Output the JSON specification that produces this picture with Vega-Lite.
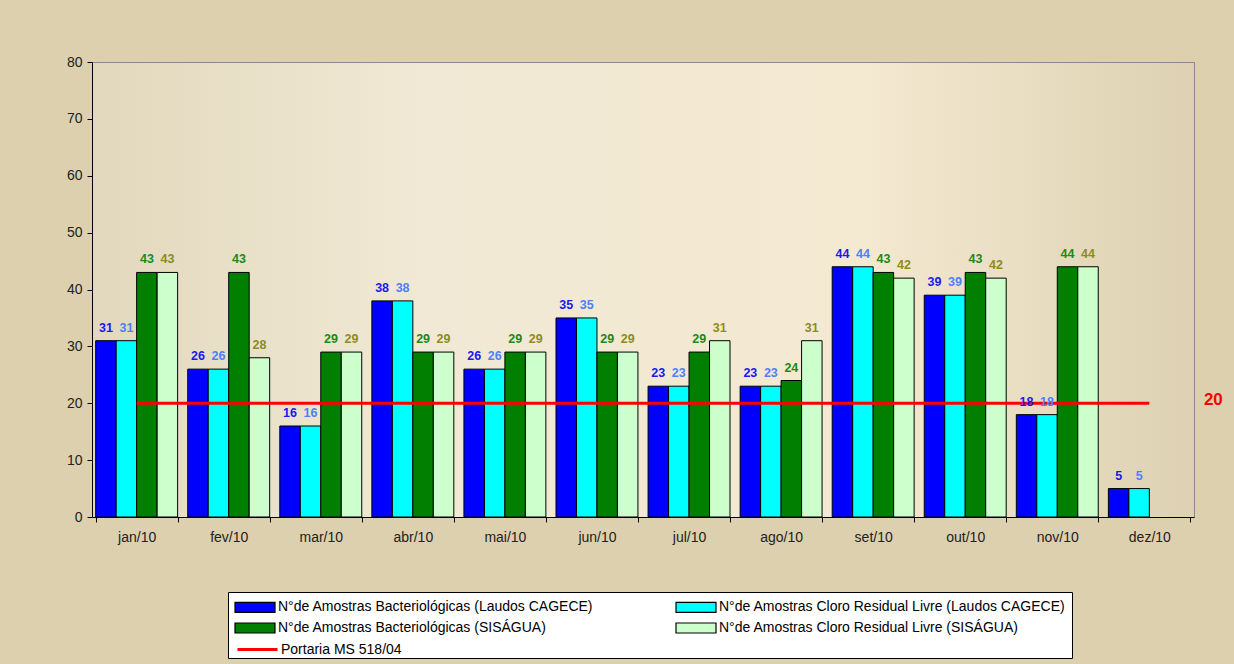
{
  "$schema": "https://vega.github.io/schema/vega-lite/v6.json",
  "width": 1102,
  "height": 455,
  "autosize": "none",
  "padding": {"left": 92, "top": 62, "right": 40, "bottom": 147},
  "background": "#ddd0ae",
  "config": {
    "font": "Liberation Sans",
    "view": {"fill": {"gradient": "linear", "x1": 0, "y1": 0, "x2": 1, "y2": 0, "stops": [{"offset": 0, "color": "#e2d8bd"}, {"offset": 0.3, "color": "#f1e9d5"}, {"offset": 0.7, "color": "#f4e9d1"}, {"offset": 1, "color": "#ddd1b2"}]}, "stroke": "#8a8a8a", "strokeWidth": 1},
    "axis": {"labelFont": "Liberation Sans", "labelFontSize": 14, "labelColor": "#222222", "domainColor": "#000000", "tickColor": "#000000", "grid": false, "title": null}
  },
  "data": {
    "values": [
      {"month": "jan/10", "s": "N°de Amostras Bacteriológicas (Laudos CAGECE)", "value": 31},
      {"month": "jan/10", "s": "N°de Amostras Cloro Residual Livre (Laudos CAGECE)", "value": 31},
      {"month": "jan/10", "s": "N°de Amostras Bacteriológicas (SISÁGUA)", "value": 43},
      {"month": "jan/10", "s": "N°de Amostras Cloro Residual Livre (SISÁGUA)", "value": 43},
      {"month": "fev/10", "s": "N°de Amostras Bacteriológicas (Laudos CAGECE)", "value": 26},
      {"month": "fev/10", "s": "N°de Amostras Cloro Residual Livre (Laudos CAGECE)", "value": 26},
      {"month": "fev/10", "s": "N°de Amostras Bacteriológicas (SISÁGUA)", "value": 43},
      {"month": "fev/10", "s": "N°de Amostras Cloro Residual Livre (SISÁGUA)", "value": 28},
      {"month": "mar/10", "s": "N°de Amostras Bacteriológicas (Laudos CAGECE)", "value": 16},
      {"month": "mar/10", "s": "N°de Amostras Cloro Residual Livre (Laudos CAGECE)", "value": 16},
      {"month": "mar/10", "s": "N°de Amostras Bacteriológicas (SISÁGUA)", "value": 29},
      {"month": "mar/10", "s": "N°de Amostras Cloro Residual Livre (SISÁGUA)", "value": 29},
      {"month": "abr/10", "s": "N°de Amostras Bacteriológicas (Laudos CAGECE)", "value": 38},
      {"month": "abr/10", "s": "N°de Amostras Cloro Residual Livre (Laudos CAGECE)", "value": 38},
      {"month": "abr/10", "s": "N°de Amostras Bacteriológicas (SISÁGUA)", "value": 29},
      {"month": "abr/10", "s": "N°de Amostras Cloro Residual Livre (SISÁGUA)", "value": 29},
      {"month": "mai/10", "s": "N°de Amostras Bacteriológicas (Laudos CAGECE)", "value": 26},
      {"month": "mai/10", "s": "N°de Amostras Cloro Residual Livre (Laudos CAGECE)", "value": 26},
      {"month": "mai/10", "s": "N°de Amostras Bacteriológicas (SISÁGUA)", "value": 29},
      {"month": "mai/10", "s": "N°de Amostras Cloro Residual Livre (SISÁGUA)", "value": 29},
      {"month": "jun/10", "s": "N°de Amostras Bacteriológicas (Laudos CAGECE)", "value": 35},
      {"month": "jun/10", "s": "N°de Amostras Cloro Residual Livre (Laudos CAGECE)", "value": 35},
      {"month": "jun/10", "s": "N°de Amostras Bacteriológicas (SISÁGUA)", "value": 29},
      {"month": "jun/10", "s": "N°de Amostras Cloro Residual Livre (SISÁGUA)", "value": 29},
      {"month": "jul/10", "s": "N°de Amostras Bacteriológicas (Laudos CAGECE)", "value": 23},
      {"month": "jul/10", "s": "N°de Amostras Cloro Residual Livre (Laudos CAGECE)", "value": 23},
      {"month": "jul/10", "s": "N°de Amostras Bacteriológicas (SISÁGUA)", "value": 29},
      {"month": "jul/10", "s": "N°de Amostras Cloro Residual Livre (SISÁGUA)", "value": 31},
      {"month": "ago/10", "s": "N°de Amostras Bacteriológicas (Laudos CAGECE)", "value": 23},
      {"month": "ago/10", "s": "N°de Amostras Cloro Residual Livre (Laudos CAGECE)", "value": 23},
      {"month": "ago/10", "s": "N°de Amostras Bacteriológicas (SISÁGUA)", "value": 24},
      {"month": "ago/10", "s": "N°de Amostras Cloro Residual Livre (SISÁGUA)", "value": 31},
      {"month": "set/10", "s": "N°de Amostras Bacteriológicas (Laudos CAGECE)", "value": 44},
      {"month": "set/10", "s": "N°de Amostras Cloro Residual Livre (Laudos CAGECE)", "value": 44},
      {"month": "set/10", "s": "N°de Amostras Bacteriológicas (SISÁGUA)", "value": 43},
      {"month": "set/10", "s": "N°de Amostras Cloro Residual Livre (SISÁGUA)", "value": 42},
      {"month": "out/10", "s": "N°de Amostras Bacteriológicas (Laudos CAGECE)", "value": 39},
      {"month": "out/10", "s": "N°de Amostras Cloro Residual Livre (Laudos CAGECE)", "value": 39},
      {"month": "out/10", "s": "N°de Amostras Bacteriológicas (SISÁGUA)", "value": 43},
      {"month": "out/10", "s": "N°de Amostras Cloro Residual Livre (SISÁGUA)", "value": 42},
      {"month": "nov/10", "s": "N°de Amostras Bacteriológicas (Laudos CAGECE)", "value": 18},
      {"month": "nov/10", "s": "N°de Amostras Cloro Residual Livre (Laudos CAGECE)", "value": 18},
      {"month": "nov/10", "s": "N°de Amostras Bacteriológicas (SISÁGUA)", "value": 44},
      {"month": "nov/10", "s": "N°de Amostras Cloro Residual Livre (SISÁGUA)", "value": 44},
      {"month": "dez/10", "s": "N°de Amostras Bacteriológicas (Laudos CAGECE)", "value": 5},
      {"month": "dez/10", "s": "N°de Amostras Cloro Residual Livre (Laudos CAGECE)", "value": 5},
      {"month": "jan/10", "s": "Portaria MS 518/04", "value": 20},
      {"month": "fev/10", "s": "Portaria MS 518/04", "value": 20},
      {"month": "mar/10", "s": "Portaria MS 518/04", "value": 20},
      {"month": "abr/10", "s": "Portaria MS 518/04", "value": 20},
      {"month": "mai/10", "s": "Portaria MS 518/04", "value": 20},
      {"month": "jun/10", "s": "Portaria MS 518/04", "value": 20},
      {"month": "jul/10", "s": "Portaria MS 518/04", "value": 20},
      {"month": "ago/10", "s": "Portaria MS 518/04", "value": 20},
      {"month": "set/10", "s": "Portaria MS 518/04", "value": 20},
      {"month": "out/10", "s": "Portaria MS 518/04", "value": 20},
      {"month": "nov/10", "s": "Portaria MS 518/04", "value": 20},
      {"month": "dez/10", "s": "Portaria MS 518/04", "value": 20}
    ]
  },
  "encoding": {
    "x": {
      "field": "month", "type": "nominal", "sort": null,
      "scale": {"domain": ["jan/10","fev/10","mar/10","abr/10","mai/10","jun/10","jul/10","ago/10","set/10","out/10","nov/10","dez/10"], "paddingInner": 0.11, "paddingOuter": 0.04},
      "axis": {"labelAngle": 0, "tickBand": "extent", "tickSize": 5, "labelPadding": 8, "domainColor": "#000000"}
    },
    "y": {
      "field": "value", "type": "quantitative",
      "scale": {"domain": [0, 80], "nice": false},
      "axis": {"values": [0,10,20,30,40,50,60,70,80], "tickSize": 5, "labelPadding": 5}
    }
  },
  "layer": [
    {
      "transform": [{"filter": "datum.s !== 'Portaria MS 518/04'"}],
      "mark": {"type": "bar", "stroke": "#000000", "strokeWidth": 1},
      "encoding": {
        "xOffset": {"field": "s", "type": "nominal", "scale": {"domain": ["N°de Amostras Bacteriológicas (Laudos CAGECE)", "N°de Amostras Cloro Residual Livre (Laudos CAGECE)", "N°de Amostras Bacteriológicas (SISÁGUA)", "N°de Amostras Cloro Residual Livre (SISÁGUA)"], "paddingInner": 0, "paddingOuter": 0}},
        "color": {
          "field": "s", "type": "nominal",
          "scale": {"domain": ["N°de Amostras Bacteriológicas (Laudos CAGECE)", "N°de Amostras Cloro Residual Livre (Laudos CAGECE)", "N°de Amostras Bacteriológicas (SISÁGUA)", "N°de Amostras Cloro Residual Livre (SISÁGUA)"], "range": ["#0000ff", "#00ffff", "#007f00", "#ccffcc"]},
          "legend": {
            "title": " ", "titleOrient": "bottom", "titleFontSize": 14, "titlePadding": 3,
            "orient": "none", "legendX": 136, "legendY": 530, "direction": "horizontal", "columns": 2,
            "fillColor": "#ffffff", "strokeColor": "#000000", "padding": 6,
            "columnPadding": 79, "rowPadding": 4,
            "labelFont": "Liberation Sans", "labelFontSize": 14, "labelColor": "#000000", "labelLimit": 500, "labelOffset": 26,
            "symbolSize": 256, "symbolType": "M-1,-0.625H4V0.625H-1Z", "symbolStrokeColor": "#000000", "symbolStrokeWidth": 1.2, "symbolOpacity": 1
          }
        }
      }
    },
    {
      "transform": [{"filter": "datum.s === 'Portaria MS 518/04'"}],
      "mark": {"type": "line", "strokeWidth": 3},
      "encoding": {
        "stroke": {
          "field": "s", "type": "nominal",
          "scale": {"domain": ["Portaria MS 518/04"], "range": ["#ff0000"]},
          "legend": {
            "title": null, "orient": "none", "legendX": 144, "legendY": 578, "padding": 0,
            "labelFont": "Liberation Sans", "labelFontSize": 14, "labelColor": "#000000", "labelLimit": 500, "labelOffset": 26,
            "symbolSize": 256, "symbolType": "M-1,0H4", "symbolStrokeWidth": 3, "symbolOpacity": 1
          }
        }
      }
    },
    {
      "transform": [{"filter": "datum.s !== 'Portaria MS 518/04'"}],
      "mark": {"type": "text", "baseline": "bottom", "dy": -6, "fontWeight": "bold", "fontSize": 12.5, "font": "Liberation Sans"},
      "encoding": {
        "xOffset": {"field": "s", "type": "nominal"},
        "text": {"field": "value", "type": "quantitative"},
        "fill": {
          "field": "s", "type": "nominal", "legend": null,
          "scale": {"domain": ["N°de Amostras Bacteriológicas (Laudos CAGECE)", "N°de Amostras Cloro Residual Livre (Laudos CAGECE)", "N°de Amostras Bacteriológicas (SISÁGUA)", "N°de Amostras Cloro Residual Livre (SISÁGUA)"], "range": ["#1a1aee", "#4d80ff", "#1a8a1a", "#8c8c1f"]}
        }
      }
    },
    {
      "transform": [{"filter": "datum.s === 'Portaria MS 518/04' && datum.month === 'dez/10'"}],
      "mark": {"type": "text", "dx": 64, "fontWeight": "bold", "fontSize": 17, "font": "Liberation Sans", "color": "#ff0000", "align": "center", "baseline": "middle", "dy": -3},
      "encoding": {
        "text": {"field": "value", "type": "quantitative"}
      }
    }
  ]
}
